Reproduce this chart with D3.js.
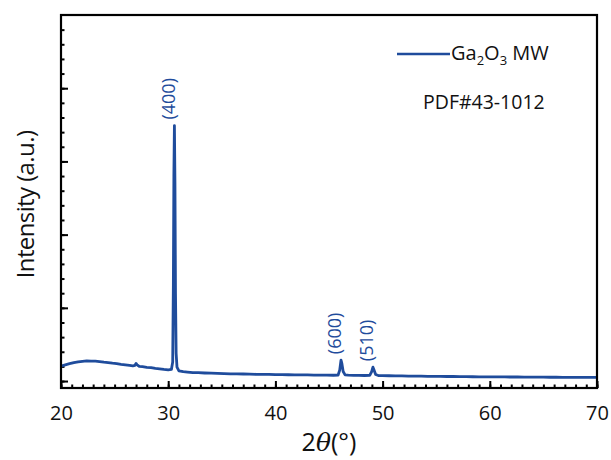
<!DOCTYPE html>
<html>
<head>
<meta charset="utf-8">
<script src="https://cdn.jsdelivr.net/npm/d3@7"></script>
<style>
  html, body { margin: 0; padding: 0; background: #fff; }
  svg text { font-family: "Open Sans", "Noto Sans", sans-serif; }
</style>
</head>
<body>
<div id="chart"></div>
<script>
// XRD pattern, Ga2O3 MW
const twoTheta = [
  20, 20.4, 20.8, 21.2, 21.6, 22, 22.4, 22.8, 23.2, 23.6, 24, 24.4, 24.8, 25.2, 25.6, 26, 26.4, 26.7,
  26.9, 27.0, 27.1, 27.3, 27.6, 28, 28.4, 28.8, 29.2, 29.6, 30, 30.3, 30.42, 30.48, 30.53, 30.58,
  30.63, 30.68, 30.74, 30.82, 31, 31.4, 31.8, 32.3, 32.8, 33.4, 34, 34.6, 35.2, 35.8, 36.4, 37,
  37.6, 38.2, 38.8, 39.4, 40, 40.6, 41.2, 41.8, 42.4, 43, 43.6, 44.2, 44.8, 45.4, 45.85, 46.0,
  46.12, 46.2, 46.32, 46.5, 46.8, 47.3, 47.8, 48.3, 48.8, 48.98, 49.1, 49.2, 49.35, 49.6, 50, 50.6,
  51.2, 51.8, 52.4, 53, 53.6, 54.2, 54.8, 55.4, 56, 56.6, 57.2, 57.8, 58.4, 59, 59.6, 60.2, 60.8,
  61.4, 62, 62.6, 63.2, 63.8, 64.4, 65, 65.6, 66.2, 66.8, 67.4, 68, 68.6, 69.2, 70
];
const intensity = [
  205, 222, 238, 252, 262, 270, 276, 273, 271, 266, 258, 252, 244, 238, 229, 222, 214, 208,
  215, 240, 222, 200, 196, 188, 182, 172, 166, 158, 152, 158, 260, 1300, 2800, 3490,
  2700, 1200, 380, 190, 140, 128, 122, 116, 114, 110, 107, 104, 101, 99, 97, 96,
  94, 92, 90, 91, 88, 87, 86, 84, 85, 83, 82, 81, 80, 79, 82, 150,
  285, 240, 130, 84, 80, 78, 78, 76, 77, 130, 190, 150, 90, 75, 73, 72,
  70, 70, 68, 67, 66, 65, 64, 63, 62, 62, 60, 60, 59, 58, 58, 57, 56,
  56, 55, 55, 54, 54, 53, 53, 52, 52, 51, 51, 50, 50, 49, 49
];

const peakLabels = ["(400)", "(600)", "(510)"];
const peakPos = [30.58, 46.12, 49.1];
const peakTop = [3490, 285, 190];

const xTicksMajor = [20, 30, 40, 50, 60, 70];
const pdfCard = "PDF#43-1012";

const width = 611, height = 460;
const margin = { left: 61, right: 14, top: 15, bottom: 72 };
const color = "#1f4c9c";

const svg = d3.select("#chart").append("svg")
  .attr("width", width)
  .attr("height", height);

const x = d3.scaleLinear().domain([20, 70]).range([margin.left, width - margin.right]);
const y = d3.scaleLinear().domain([-95, 5000]).range([height - margin.bottom, margin.top]);

const data = twoTheta.map((t, i) => ({ t, v: intensity[i] }));

// minor ticks x
svg.append("g")
  .attr("transform", `translate(0,${y(-95)})`)
  .call(d3.axisBottom(x).tickValues(d3.range(20, 71, 1)).tickSize(-3.5).tickFormat(""))
  .call(g => g.select(".domain").remove())
  .selectAll("line").attr("stroke", "#000").attr("stroke-width", 2);

// major ticks x
svg.append("g")
  .attr("transform", `translate(0,${y(-95)})`)
  .call(d3.axisBottom(x).tickValues(xTicksMajor).tickSize(-7).tickPadding(18))
  .call(g => g.select(".domain").remove())
  .call(g => g.selectAll("line").attr("stroke", "#000").attr("stroke-width", 2))
  .call(g => g.selectAll("text").attr("fill", "#111").style("font-size", "20px"));

// y ticks
svg.append("g")
  .attr("transform", `translate(${x(20)},0)`)
  .call(d3.axisLeft(y).tickValues(d3.range(0, 5000, 200)).tickSize(-3.5).tickFormat(""))
  .call(g => g.select(".domain").remove())
  .selectAll("line").attr("stroke", "#000").attr("stroke-width", 2);

svg.append("g")
  .attr("transform", `translate(${x(20)},0)`)
  .call(d3.axisLeft(y).tickValues([0, 1000, 2000, 3000, 4000]).tickSize(-7).tickFormat(""))
  .call(g => g.select(".domain").remove())
  .selectAll("line").attr("stroke", "#000").attr("stroke-width", 2);

// data line
const line = d3.line().x(d => x(d.t)).y(d => y(d.v));
svg.append("path")
  .datum(data)
  .attr("fill", "none")
  .attr("stroke", color)
  .attr("stroke-width", 2.8)
  .attr("stroke-linejoin", "round")
  .attr("d", line);

// frame
svg.append("rect")
  .attr("x", x(20)).attr("y", y(5000))
  .attr("width", x(70) - x(20)).attr("height", y(-95) - y(5000))
  .attr("fill", "none").attr("stroke", "#000").attr("stroke-width", 2.2);

// peak labels
peakLabels.forEach((lab, i) => {
  const px = x(peakPos[i]) - 6, py = y(peakTop[i]) - 6;
  svg.append("text")
    .attr("transform", `translate(${px},${py}) rotate(-90)`)
    .attr("text-anchor", "start")
    .attr("dy", "0.35em")
    .attr("fill", color)
    .style("font-size", "18px")
    .text(lab);
});

// legend
svg.append("line")
  .attr("x1", 397).attr("x2", 450).attr("y1", 54).attr("y2", 54)
  .attr("stroke", color).attr("stroke-width", 2.5);
const lt = svg.append("text").attr("x", 451).attr("y", 60).attr("fill", "#111").style("font-size", "20px");
lt.append("tspan").text("Ga");
lt.append("tspan").attr("dy", 5).style("font-size", "13px").text("2");
lt.append("tspan").attr("dy", -5).text("O");
lt.append("tspan").attr("dy", 5).style("font-size", "13px").text("3");
lt.append("tspan").attr("dy", -5).text(" MW");

svg.append("text")
  .attr("x", 423).attr("y", 109)
  .attr("fill", "#111").style("font-size", "19.5px")
  .text(pdfCard);

// axis titles
svg.append("text")
  .attr("transform", `translate(34,${(y(-95) + y(5000)) / 2 + 3}) rotate(-90)`)
  .attr("text-anchor", "middle")
  .attr("fill", "#111")
  .style("font-size", "24px")
  .style("letter-spacing", "-0.6px")
  .text("Intensity (a.u.)");

const xt = svg.append("text")
  .attr("x", (x(20) + x(70)) / 2)
  .attr("y", 451)
  .attr("text-anchor", "middle")
  .attr("fill", "#111")
  .style("font-size", "25px");
xt.append("tspan").text("2");
xt.append("tspan").style("font-style", "italic").style("font-family", "'DejaVu Serif', serif").text("θ");
xt.append("tspan").text("(°)");
</script>
</body>
</html>
